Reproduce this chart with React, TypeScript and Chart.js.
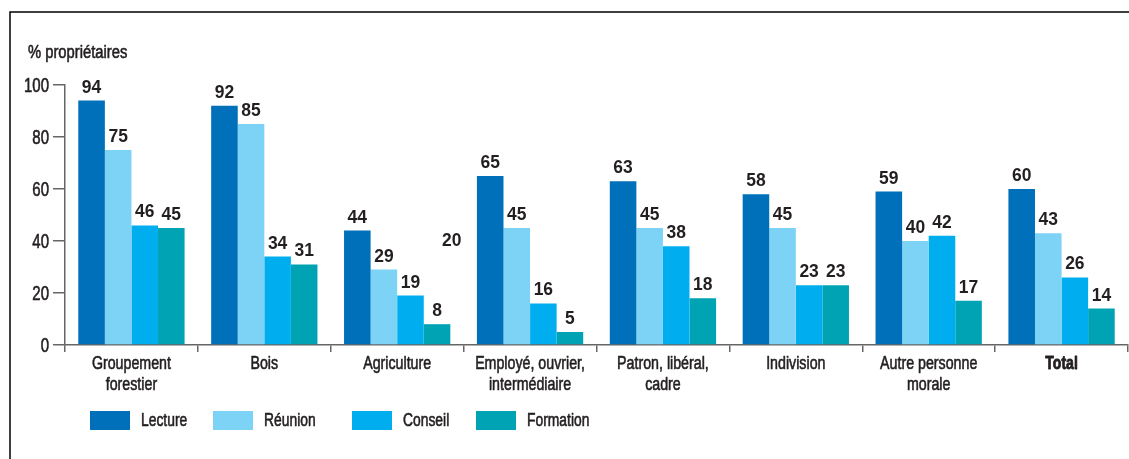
import React, { useEffect, useRef } from "react";
import { Chart, registerables } from "chart.js";

Chart.register(...registerables);

const categories: string[][] = [
  ["Groupement", "forestier"],
  ["Bois"],
  ["Agriculture"],
  ["Employé, ouvrier,", "intermédiaire"],
  ["Patron, libéral,", "cadre"],
  ["Indivision"],
  ["Autre personne", "morale"],
  ["Total"],
];

const lecture = [94, 92, 44, 65, 63, 58, 59, 60];
const reunion = [75, 85, 29, 45, 45, 45, 40, 43];
const conseil = [46, 34, 19, 16, 38, 23, 42, 26];
const formation = [45, 31, 8, 5, 18, 23, 17, 14];

const seriesNames = ["Lecture", "Réunion", "Conseil", "Formation"];
const seriesColors = ["#0070BA", "#7DD3F5", "#00AEEF", "#00A3B4"];

const yTicks = [0, 20, 40, 60, 80, 100];
const yTitle = "% propriétaires";
const strayLabel = "20";

const FONT = "'Liberation Sans', Arial, sans-serif";
const TEXT = "#231F20";
const SX = 0.79;

function txt(
  ctx: CanvasRenderingContext2D,
  s: string,
  x: number,
  y: number,
  align: CanvasTextAlign,
  sx: number,
  heavy = 0
) {
  ctx.save();
  ctx.translate(x, y);
  ctx.scale(sx, 1);
  ctx.textAlign = align;
  ctx.fillText(s, 0, 0);
  if (heavy > 0) {
    ctx.strokeStyle = TEXT;
    ctx.lineWidth = heavy;
    ctx.lineJoin = "round";
    ctx.strokeText(s, 0, 0);
  }
  ctx.restore();
}

export default function App() {
  const ref = useRef<HTMLCanvasElement | null>(null);

  useEffect(() => {
    document.body.style.margin = "0";
    const canvas = ref.current!;
    const customPlugin = {
      id: "custom",
      beforeDraw(chart: any) {
        const ctx = chart.ctx;
        ctx.save();
        ctx.strokeStyle = "#000";
        ctx.lineWidth = 1.5;
        ctx.beginPath();
        ctx.moveTo(10, chart.height);
        ctx.lineTo(10, 12);
        ctx.lineTo(chart.width, 12);
        ctx.stroke();
        ctx.restore();
      },
      afterDraw(chart: any) {
        const ctx = chart.ctx as CanvasRenderingContext2D;
        const xs = chart.scales.x;
        const ys = chart.scales.y;
        ctx.save();
        ctx.fillStyle = TEXT;
        ctx.textBaseline = "alphabetic";

        // y title
        ctx.font = `18px ${FONT}`;
        txt(ctx, yTitle, 28, 58, "left", 0.82, 0.6);

        // y tick labels
        ctx.font = `20px ${FONT}`;
        ctx.textBaseline = "middle";
        yTicks.forEach((v) => {
          txt(ctx, String(v), 49, ys.getPixelForValue(v) + 1, "right", 0.75, 0.6);
        });

        // x labels
        ctx.textBaseline = "alphabetic";
        categories.forEach((lines, i) => {
          const last = i === categories.length - 1;
          ctx.font = last ? `bold 19px ${FONT}` : `18px ${FONT}`;
          const cx = xs.getPixelForValue(i);
          lines.forEach((ln, k) => {
            txt(ctx, ln, cx, 369 + k * 21, "center", last ? 0.74 : SX, last ? 0.9 : 0.6);
          });
        });

        // data labels
        ctx.font = `bold 19px ${FONT}`;
        chart.data.datasets.forEach((ds: any, i: number) => {
          const meta = chart.getDatasetMeta(i);
          meta.data.forEach((bar: any, j: number) => {
            txt(ctx, String(ds.data[j]), bar.x, bar.y - 8, "center", 0.92);
          });
        });

        // stray label
        txt(ctx, strayLabel, xs.getPixelForValue(2.41), ys.getPixelForValue(38), "center", 0.92);

        // legend
        const boxX = [90, 213, 352, 476];
        ctx.font = `18px ${FONT}`;
        ctx.textBaseline = "alphabetic";
        seriesNames.forEach((n, i) => {
          ctx.fillStyle = seriesColors[i];
          ctx.fillRect(boxX[i], 411, 40, 19);
          ctx.fillStyle = TEXT;
          txt(ctx, n, boxX[i] + 51, 426, "left", 0.77, 0.6);
        });
        ctx.restore();
      },
    };

    const data = [lecture, reunion, conseil, formation];
    const chart = new Chart(canvas, {
      type: "bar",
      data: {
        labels: categories.map((c) => c.join(" ")),
        datasets: seriesNames.map((n, i) => ({
          label: n,
          data: data[i],
          backgroundColor: seriesColors[i],
          borderWidth: 0,
          barPercentage: 1,
          categoryPercentage: 0.8,
        })),
      },
      options: {
        animation: false,
        responsive: false,
        maintainAspectRatio: false,
        layout: { padding: { top: 85, right: 1, left: 0, bottom: 0 } },
        plugins: {
          legend: { display: false },
          tooltip: { enabled: false },
        },
        scales: {
          x: {
            offset: true,
            grid: {
              offset: true,
              drawOnChartArea: false,
              drawTicks: true,
              tickLength: 7,
              color: "#666",
              lineWidth: 1.5,
            },
            border: { display: true, color: "#666", width: 1.5 },
            ticks: { display: false, autoSkip: false },
            afterFit: (s: any) => {
              s.height = 114;
            },
          },
          y: {
            min: 0,
            max: 100,
            afterBuildTicks: (s: any) => {
              s.ticks = yTicks.map((v) => ({ value: v }));
            },
            grid: {
              drawOnChartArea: false,
              drawTicks: true,
              tickLength: 12,
              color: "#666",
              lineWidth: 1.5,
            },
            border: { display: true, color: "#666", width: 1.5 },
            ticks: { display: false },
            afterFit: (s: any) => {
              s.width = 65;
            },
          },
        },
      },
      plugins: [customPlugin],
    });
    return () => chart.destroy();
  }, []);

  return <canvas ref={ref} width={1129} height={459} style={{ display: "block" }} />;
}
